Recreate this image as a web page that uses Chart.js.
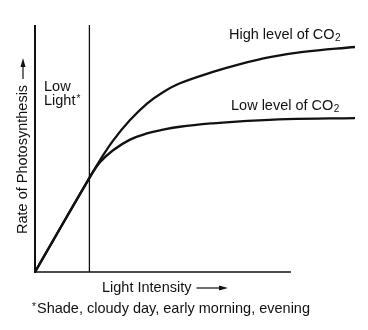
<!DOCTYPE html>
<html>
<head>
<meta charset="utf-8">
<script src="https://cdn.jsdelivr.net/npm/chart.js@4/dist/chart.umd.min.js"></script>
<style>
html,body{margin:0;padding:0;background:#fff;}
#wrap{width:368px;height:330px;}
</style>
</head>
<body>
<div id="wrap"><canvas id="c" width="368" height="330"></canvas></div>
<script>
// Light intensity (relative units 0-100) and rate of photosynthesis (relative units 0-100)
const highX = [0, 16.6, 20.3, 24.4, 29.7, 35.0, 40.0, 45.3, 55.6, 64.1, 73.4, 83.8, 100];
const highCO2 = [0, 37.2, 45.2, 53.2, 61.5, 68.2, 72.8, 76.4, 81.0, 84.2, 87.0, 89.1, 91.1];
const lowX = [0, 16.6, 20.3, 24.4, 29.7, 35.0, 40.0, 45.3, 55.6, 64.1, 78.8, 100];
const lowCO2 = [0, 37.2, 44.4, 49.3, 53.6, 56.1, 57.6, 58.8, 60.2, 61.0, 61.9, 62.3];
const lowLightLimit = [17];
const xAxisRange = [0, 80];
const yAxisRange = [0, 100];
const seriesLabels = ['High level of CO', 'Low level of CO'];

const FONT = '"Liberation Sans", Arial, Helvetica, sans-serif';
const FS = 14.5;
const INK = '#111';

function pts(xs, ys){ return xs.map((x,i)=>({x:x, y:ys[i]})); }

const annot = {
  id: 'annot',
  beforeDatasetsDraw(chart){
    const ctx = chart.ctx, sx = chart.scales.x, sy = chart.scales.y;
    ctx.save();
    ctx.strokeStyle = INK;
    ctx.lineCap = 'butt';
    // y axis
    ctx.lineWidth = 2;
    ctx.beginPath();
    ctx.moveTo(sx.getPixelForValue(0), sy.getPixelForValue(yAxisRange[0]) + 1);
    ctx.lineTo(sx.getPixelForValue(0), sy.getPixelForValue(yAxisRange[1]));
    ctx.stroke();
    // x axis
    ctx.lineWidth = 1.3;
    ctx.beginPath();
    ctx.moveTo(sx.getPixelForValue(xAxisRange[0]), sy.getPixelForValue(0));
    ctx.lineTo(sx.getPixelForValue(xAxisRange[1]), sy.getPixelForValue(0));
    ctx.stroke();
    // low light boundary
    ctx.lineWidth = 1.3;
    ctx.beginPath();
    ctx.moveTo(sx.getPixelForValue(lowLightLimit[0]), sy.getPixelForValue(0));
    ctx.lineTo(sx.getPixelForValue(lowLightLimit[0]), sy.getPixelForValue(yAxisRange[1]));
    ctx.stroke();
    ctx.restore();
  },
  afterDraw(chart){
    const ctx = chart.ctx;
    ctx.save();
    ctx.fillStyle = INK;
    ctx.strokeStyle = INK;
    ctx.textBaseline = 'alphabetic';
    ctx.textAlign = 'left';
    const F = FS + 'px ' + FONT;
    ctx.font = F;

    function withSub(text, x, y){
      ctx.font = F;
      ctx.fillText(text, x, y);
      const w = ctx.measureText(text).width;
      ctx.font = '10px ' + FONT;
      ctx.fillText('2', x + w + 0.5, y + 2);
      ctx.font = F;
    }
    // series labels
    withSub(seriesLabels[0], 229, 39);
    withSub(seriesLabels[1], 231, 110);

    // Low Light*
    ctx.fillText('Low', 44, 91);
    ctx.fillText('Light', 44, 105);
    const lw = ctx.measureText('Light').width;
    ctx.font = '10px ' + FONT;
    ctx.fillText('*', 44 + lw + 1, 102);
    ctx.font = F;

    // x axis title
    ctx.fillText('Light Intensity', 102, 292);
    const xw = ctx.measureText('Light Intensity').width;
    const a0 = Math.max(194, 102 + xw + 5);
    ctx.lineWidth = 1.2;
    ctx.beginPath(); ctx.moveTo(a0, 288); ctx.lineTo(222, 288); ctx.stroke();
    ctx.beginPath(); ctx.moveTo(228, 288); ctx.lineTo(219, 285.5); ctx.lineTo(219, 290.5); ctx.closePath(); ctx.fill();

    // footnote
    ctx.font = '10px ' + FONT;
    ctx.fillText('*', 32, 310);
    ctx.font = F;
    ctx.fillText('Shade, cloudy day, early morning, evening', 37, 313);

    // y axis title (rotated)
    ctx.save();
    ctx.translate(27, 234);
    ctx.rotate(-Math.PI/2);
    ctx.fillText('Rate of Photosynthesis', 0, 0);
    const tw = ctx.measureText('Rate of Photosynthesis').width;
    ctx.lineWidth = 1.2;
    ctx.beginPath(); ctx.moveTo(tw + 6, -4); ctx.lineTo(170, -4); ctx.stroke();
    ctx.beginPath(); ctx.moveTo(176, -4); ctx.lineTo(167, -6.5); ctx.lineTo(167, -1.5); ctx.closePath(); ctx.fill();
    ctx.restore();

    ctx.restore();
  }
};

new Chart(document.getElementById('c'), {
  type: 'line',
  data: {
    datasets: [
      { label: 'High level of CO2', data: pts(highX, highCO2), borderColor: INK, borderWidth: 2.3,
        pointRadius: 0, tension: 0.4, fill: false },
      { label: 'Low level of CO2', data: pts(lowX, lowCO2), borderColor: INK, borderWidth: 2.3,
        pointRadius: 0, tension: 0.4, fill: false }
    ]
  },
  options: {
    responsive: false,
    animation: false,
    devicePixelRatio: 1,
    layout: { padding: { left: 35, right: 13, top: 25, bottom: 58 } },
    plugins: { legend: { display: false }, tooltip: { enabled: false } },
    scales: {
      x: { type: 'linear', min: 0, max: 100, display: false },
      y: { type: 'linear', min: 0, max: 100, display: false }
    }
  },
  plugins: [annot]
});
</script>
</body>
</html>
